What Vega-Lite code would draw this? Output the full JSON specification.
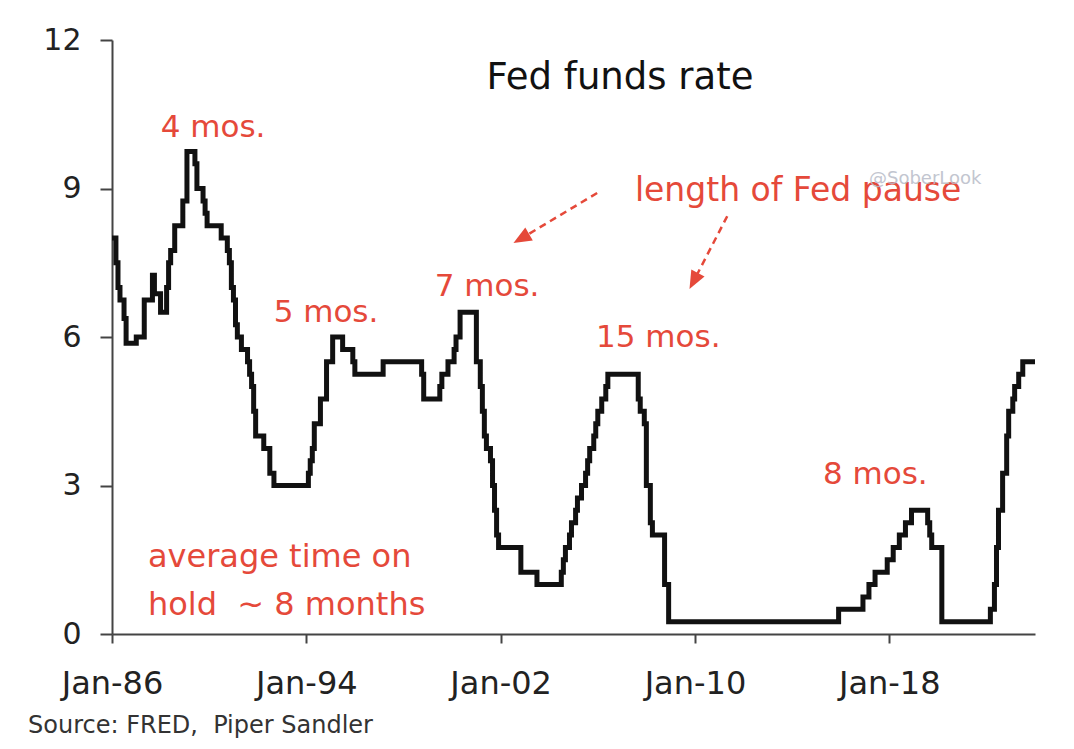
{
  "$schema": "https://vega.github.io/schema/vega-lite/v6.json",
  "width": 923,
  "height": 594,
  "autosize": {"type": "none"},
  "padding": {"left": 112, "top": 40, "right": 39, "bottom": 115},
  "background": "white",
  "config": {
    "view": {"stroke": null},
    "axis": {"grid": false}
  },
  "title": {
    "text": "Source: FRED,\u00a0 Piper Sandler",
    "orient": "bottom",
    "anchor": "start",
    "frame": "group",
    "dx": -84,
    "offset": 15,
    "font": "DejaVu Sans",
    "fontSize": 24,
    "fontWeight": "normal",
    "color": "#333333"
  },
  "datasets": {
    "rate": [
      {"date": "1986-01-01", "rate": 8.0},
      {"date": "1986-03-01", "rate": 7.5},
      {"date": "1986-04-01", "rate": 7.0},
      {"date": "1986-05-01", "rate": 6.75},
      {"date": "1986-07-01", "rate": 6.375},
      {"date": "1986-08-01", "rate": 5.875},
      {"date": "1987-01-01", "rate": 6.0},
      {"date": "1987-05-01", "rate": 6.75},
      {"date": "1987-09-01", "rate": 7.25},
      {"date": "1987-10-01", "rate": 6.875},
      {"date": "1988-01-01", "rate": 6.5},
      {"date": "1988-04-01", "rate": 7.0},
      {"date": "1988-05-01", "rate": 7.5},
      {"date": "1988-06-01", "rate": 7.75},
      {"date": "1988-08-01", "rate": 8.25},
      {"date": "1988-12-01", "rate": 8.75},
      {"date": "1989-02-01", "rate": 9.75},
      {"date": "1989-06-01", "rate": 9.5},
      {"date": "1989-07-01", "rate": 9.0},
      {"date": "1989-10-01", "rate": 8.75},
      {"date": "1989-11-01", "rate": 8.5},
      {"date": "1989-12-01", "rate": 8.25},
      {"date": "1990-07-01", "rate": 8.0},
      {"date": "1990-10-01", "rate": 7.75},
      {"date": "1990-11-01", "rate": 7.5},
      {"date": "1990-12-01", "rate": 7.0},
      {"date": "1991-01-01", "rate": 6.75},
      {"date": "1991-02-01", "rate": 6.25},
      {"date": "1991-03-01", "rate": 6.0},
      {"date": "1991-05-01", "rate": 5.75},
      {"date": "1991-08-01", "rate": 5.5},
      {"date": "1991-09-01", "rate": 5.25},
      {"date": "1991-10-01", "rate": 5.0},
      {"date": "1991-11-01", "rate": 4.5},
      {"date": "1991-12-01", "rate": 4.0},
      {"date": "1992-04-01", "rate": 3.75},
      {"date": "1992-07-01", "rate": 3.25},
      {"date": "1992-09-01", "rate": 3.0},
      {"date": "1994-02-01", "rate": 3.25},
      {"date": "1994-03-01", "rate": 3.5},
      {"date": "1994-04-01", "rate": 3.75},
      {"date": "1994-05-01", "rate": 4.25},
      {"date": "1994-08-01", "rate": 4.75},
      {"date": "1994-11-01", "rate": 5.5},
      {"date": "1995-02-01", "rate": 6.0},
      {"date": "1995-07-01", "rate": 5.75},
      {"date": "1995-12-01", "rate": 5.5},
      {"date": "1996-01-01", "rate": 5.25},
      {"date": "1997-03-01", "rate": 5.5},
      {"date": "1998-10-01", "rate": 5.25},
      {"date": "1998-11-01", "rate": 4.75},
      {"date": "1999-07-01", "rate": 5.0},
      {"date": "1999-08-01", "rate": 5.25},
      {"date": "1999-11-01", "rate": 5.5},
      {"date": "2000-02-01", "rate": 5.75},
      {"date": "2000-03-01", "rate": 6.0},
      {"date": "2000-05-01", "rate": 6.5},
      {"date": "2001-01-01", "rate": 5.5},
      {"date": "2001-03-01", "rate": 5.0},
      {"date": "2001-04-01", "rate": 4.5},
      {"date": "2001-05-01", "rate": 4.0},
      {"date": "2001-06-01", "rate": 3.75},
      {"date": "2001-08-01", "rate": 3.5},
      {"date": "2001-09-01", "rate": 3.0},
      {"date": "2001-10-01", "rate": 2.5},
      {"date": "2001-11-01", "rate": 2.0},
      {"date": "2001-12-01", "rate": 1.75},
      {"date": "2002-11-01", "rate": 1.25},
      {"date": "2003-07-01", "rate": 1.0},
      {"date": "2004-07-01", "rate": 1.25},
      {"date": "2004-08-01", "rate": 1.5},
      {"date": "2004-09-01", "rate": 1.75},
      {"date": "2004-11-01", "rate": 2.0},
      {"date": "2004-12-01", "rate": 2.25},
      {"date": "2005-02-01", "rate": 2.5},
      {"date": "2005-03-01", "rate": 2.75},
      {"date": "2005-05-01", "rate": 3.0},
      {"date": "2005-07-01", "rate": 3.25},
      {"date": "2005-08-01", "rate": 3.5},
      {"date": "2005-09-01", "rate": 3.75},
      {"date": "2005-11-01", "rate": 4.0},
      {"date": "2005-12-01", "rate": 4.25},
      {"date": "2006-01-01", "rate": 4.5},
      {"date": "2006-03-01", "rate": 4.75},
      {"date": "2006-05-01", "rate": 5.0},
      {"date": "2006-06-01", "rate": 5.25},
      {"date": "2007-09-01", "rate": 4.75},
      {"date": "2007-10-01", "rate": 4.5},
      {"date": "2007-12-01", "rate": 4.25},
      {"date": "2008-01-01", "rate": 3.0},
      {"date": "2008-03-01", "rate": 2.25},
      {"date": "2008-04-01", "rate": 2.0},
      {"date": "2008-10-01", "rate": 1.0},
      {"date": "2008-12-01", "rate": 0.25},
      {"date": "2015-12-01", "rate": 0.5},
      {"date": "2016-12-01", "rate": 0.75},
      {"date": "2017-03-01", "rate": 1.0},
      {"date": "2017-06-01", "rate": 1.25},
      {"date": "2017-12-01", "rate": 1.5},
      {"date": "2018-03-01", "rate": 1.75},
      {"date": "2018-06-01", "rate": 2.0},
      {"date": "2018-09-01", "rate": 2.25},
      {"date": "2018-12-01", "rate": 2.5},
      {"date": "2019-08-01", "rate": 2.25},
      {"date": "2019-09-01", "rate": 2.0},
      {"date": "2019-10-01", "rate": 1.75},
      {"date": "2020-03-01", "rate": 0.25},
      {"date": "2022-03-01", "rate": 0.5},
      {"date": "2022-05-01", "rate": 1.0},
      {"date": "2022-06-01", "rate": 1.75},
      {"date": "2022-07-01", "rate": 2.5},
      {"date": "2022-09-01", "rate": 3.25},
      {"date": "2022-11-01", "rate": 4.0},
      {"date": "2022-12-01", "rate": 4.5},
      {"date": "2023-02-01", "rate": 4.75},
      {"date": "2023-03-01", "rate": 5.0},
      {"date": "2023-05-01", "rate": 5.25},
      {"date": "2023-07-01", "rate": 5.5},
      {"date": "2024-01-01", "rate": 5.5}
    ],
    "pauses": [
      {"date": "1990-02-28", "rate": 10.22, "label": "4 mos."},
      {"date": "1994-10-24", "rate": 6.48, "label": "5 mos."},
      {"date": "2001-06-10", "rate": 7.01, "label": "7 mos."},
      {"date": "2008-06-28", "rate": 5.98, "label": "15 mos."},
      {"date": "2017-06-05", "rate": 3.21, "label": "8 mos."}
    ],
    "headline": [
      {"date": "2014-04-01", "rate": 8.95, "label": "length of Fed pause"}
    ],
    "note": [
      {"date": "1987-06-25", "rate": 1.56, "label": "average time on"},
      {"date": "1987-06-25", "rate": 0.59, "label": "hold\u00a0 ~ 8 months"}
    ],
    "arrows": [
      {"date": "2005-12-22", "rate": 8.91, "date2": "2002-11-20", "rate2": 8.0, "angle": 240},
      {"date": "2011-05-01", "rate": 8.44, "date2": "2009-12-20", "rate2": 7.15, "angle": 208}
    ]
  },
  "encoding": {
    "x": {
      "field": "date",
      "type": "temporal",
      "scale": {
        "type": "utc",
        "domain": [
          {"year": 1986, "month": 1, "date": 1, "utc": true},
          {"year": 2024, "month": 1, "date": 1, "utc": true}
        ]
      },
      "axis": {
        "title": null,
        "format": "%b-%y",
        "values": [
          {"year": 1986, "month": 1, "date": 1, "utc": true},
          {"year": 1994, "month": 1, "date": 1, "utc": true},
          {"year": 2002, "month": 1, "date": 1, "utc": true},
          {"year": 2010, "month": 1, "date": 1, "utc": true},
          {"year": 2018, "month": 1, "date": 1, "utc": true}
        ],
        "labelFont": "DejaVu Sans",
        "labelFontSize": 32,
        "labelColor": "#222222",
        "labelPadding": 25,
        "labelFlush": false,
        "tickSize": 9,
        "tickWidth": 2,
        "tickColor": "#444444",
        "domainColor": "#444444",
        "domainWidth": 2
      }
    },
    "y": {
      "field": "rate",
      "type": "quantitative",
      "scale": {"domain": [0, 12], "nice": false, "zero": true},
      "axis": {
        "title": null,
        "values": [0, 3, 6, 9, 12],
        "labelFont": "DejaVu Sans",
        "labelFontSize": 30,
        "labelColor": "#222222",
        "labelPadding": 19,
        "tickSize": 12,
        "tickWidth": 2,
        "tickColor": "#444444",
        "domainColor": "#444444",
        "domainWidth": 2
      }
    }
  },
  "layer": [
    {
      "data": {"name": "rate"},
      "mark": {"type": "line", "interpolate": "step-after", "color": "#111111", "strokeWidth": 5, "strokeJoin": "miter"}
    },
    {
      "data": {"name": "pauses"},
      "mark": {"type": "text", "font": "DejaVu Sans", "fontSize": 31, "color": "#e5493a", "align": "center", "baseline": "middle"},
      "encoding": {"text": {"field": "label"}}
    },
    {
      "data": {"name": "headline"},
      "mark": {"type": "text", "font": "DejaVu Sans", "fontSize": 33, "color": "#e5493a", "align": "center", "baseline": "middle"},
      "encoding": {"text": {"field": "label"}}
    },
    {
      "data": {"values": [{"date": "2019-06-25", "rate": 9.2, "label": "@SoberLook"}]},
      "mark": {"type": "text", "font": "DejaVu Sans", "fontSize": 18, "color": "#b8bcc8", "opacity": 0.85, "align": "center", "baseline": "middle"},
      "encoding": {"text": {"field": "label"}}
    },
    {
      "data": {"name": "note"},
      "mark": {"type": "text", "font": "DejaVu Sans", "fontSize": 32, "color": "#e5493a", "align": "left", "baseline": "middle"},
      "encoding": {"text": {"field": "label"}}
    },
    {
      "data": {"values": [{"date": "2006-12-01", "rate": 11.23, "label": "Fed funds rate"}]},
      "mark": {"type": "text", "font": "DejaVu Sans", "fontSize": 37, "color": "#111111", "align": "center", "baseline": "middle"},
      "encoding": {"text": {"field": "label"}}
    },
    {
      "data": {"name": "arrows"},
      "mark": {"type": "rule", "color": "#e5493a", "strokeWidth": 2.5, "strokeDash": [7, 5]},
      "encoding": {
        "x2": {"field": "date2"},
        "y2": {"field": "rate2"}
      }
    },
    {
      "data": {"name": "arrows"},
      "mark": {"type": "point", "shape": "M0,-1L0.75,0.8L-0.75,0.8Z", "filled": true, "color": "#e5493a", "opacity": 1, "size": 400},
      "encoding": {
        "x": {"field": "date2", "type": "temporal"},
        "y": {"field": "rate2", "type": "quantitative"},
        "angle": {"field": "angle", "type": "quantitative", "scale": {"domain": [0, 360], "range": [0, 360]}}
      }
    }
  ]
}
